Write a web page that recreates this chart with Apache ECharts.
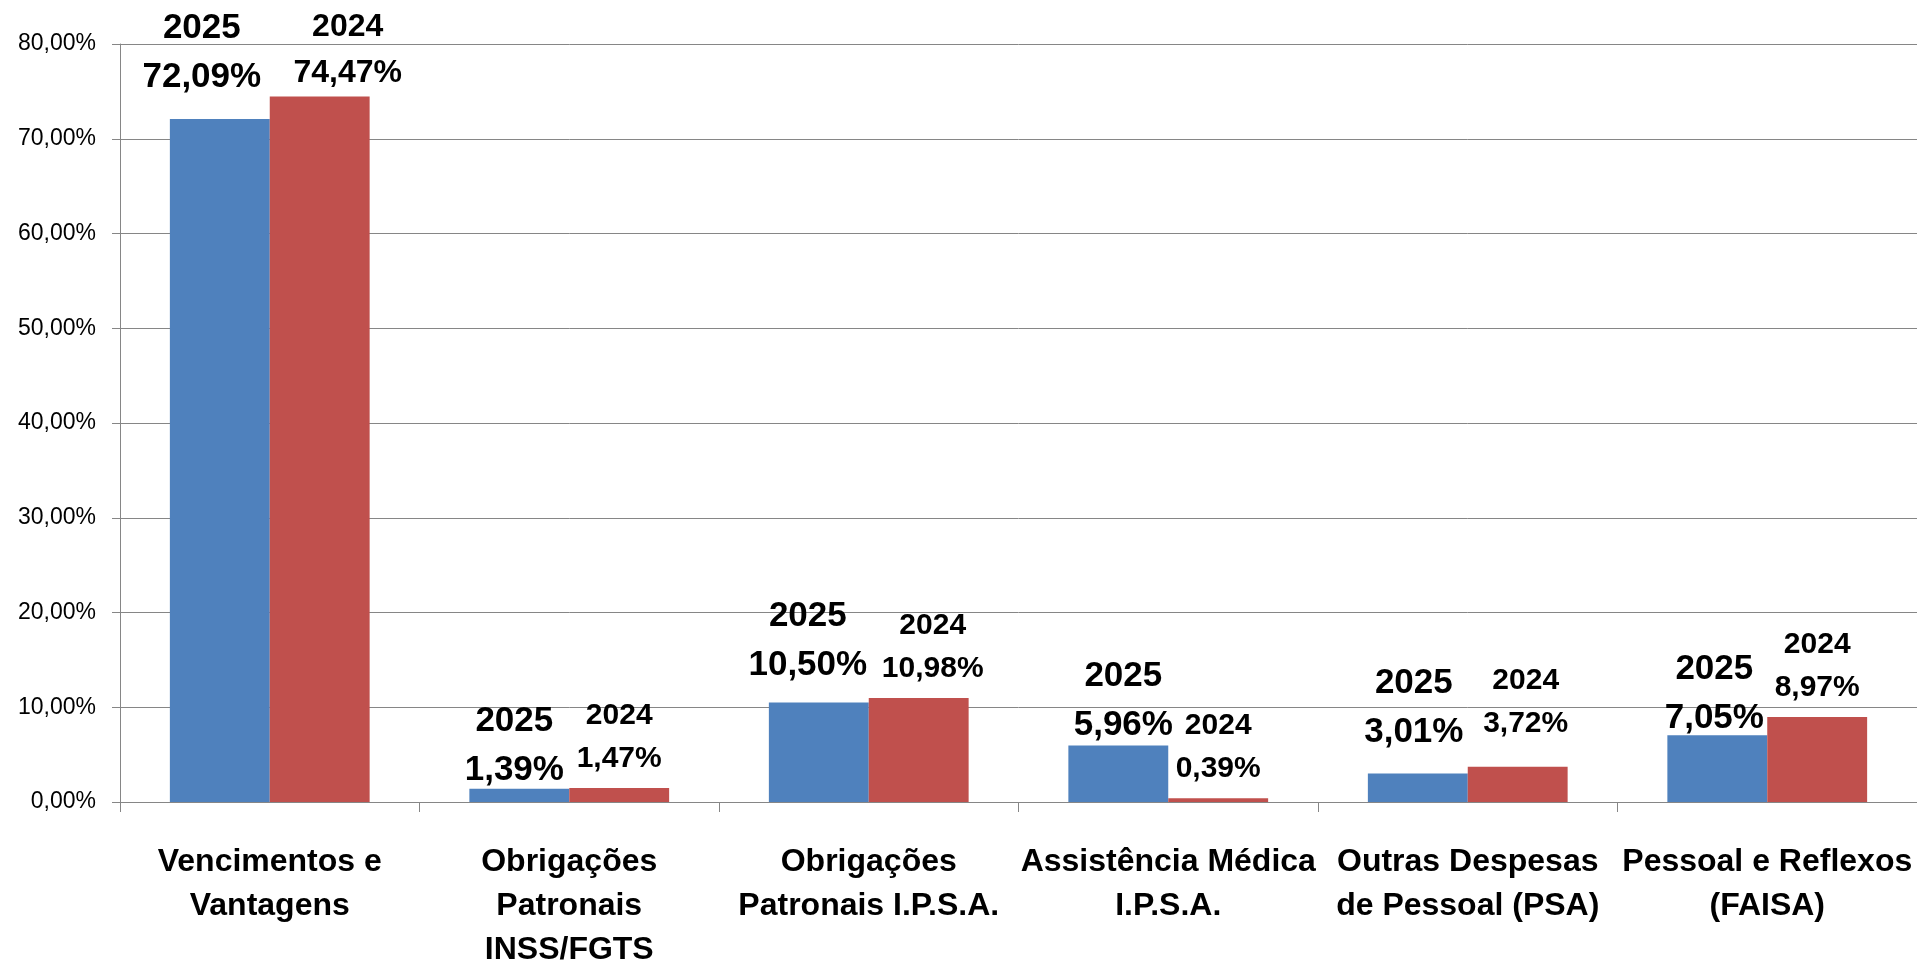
<!DOCTYPE html>
<html>
<head>
<meta charset="utf-8">
<script src="https://cdn.jsdelivr.net/npm/echarts@6/dist/echarts.min.js"></script>
<style>
    html, body { margin: 0; padding: 0; background: #fff; }
    #chart { width: 1917px; height: 967px; }
</style>
</head>
<body>
<div id="chart"></div>
<script>
// 数据
var categories = [
    'Vencimentos e\nVantagens',
    'Obrigações\nPatronais\nINSS/FGTS',
    'Obrigações\nPatronais I.P.S.A.',
    'Assistência Médica\nI.P.S.A.',
    'Outras Despesas\nde Pessoal (PSA)',
    'Pessoal e Reflexos\n(FAISA)'
];
var share2025 = [72.09, 1.39, 10.50, 5.96, 3.01, 7.05];
var share2024 = [74.47, 1.47, 10.98, 0.39, 3.72, 8.97];
var yMin = 0, yMax = 80, yStep = 10;

// 标签位置 (手动挪动过的, 相对柱顶)
var offsets2025 = [[-18, -17], [-5, 6], [-11, -13], [5, 4], [-4, -17], [-3, 8]];
var offsets2024 = [[28, 0], [0, -8], [14, -8], [0, -8], [8, -22], [0, -8]];
var sizes2024 = [32, 30, 30, 30, 30, 30];

function pct(v) {
    return v.toFixed(2).replace('.', ',') + '%';
}

(function () {
    var myChart = echarts.init(document.getElementById('chart'));
    var font = '"Liberation Sans", Arial, sans-serif';

    function buildData(values, offsets, big) {
        return values.map(function (v, i) {
            var key = big ? 'b' : (sizes2024[i] > 30 ? 'm' : 's');
            return {
                value: v,
                label: {
                    offset: offsets[i],
                    formatter: function (p) {
                        return '{' + key + '|' + p.seriesName + '}\n{' + key + '|' + pct(p.value) + '}';
                    }
                }
            };
        });
    }

    var rich = {
        b: { fontSize: 35, fontWeight: 'bold', lineHeight: 49, color: '#000', fontFamily: font },
        m: { fontSize: 32, fontWeight: 'bold', lineHeight: 46, color: '#000', fontFamily: font },
        s: { fontSize: 30, fontWeight: 'bold', lineHeight: 43, color: '#000', fontFamily: font }
    };

    var option = {
        animation: false,
        textStyle: { fontFamily: font },
        grid: { left: 120, right: 0, top: 44, bottom: 165, outerBoundsMode: 'none' },
        xAxis: {
            type: 'category',
            data: categories,
            axisLine: { lineStyle: { color: '#868686', width: 1 } },
            axisTick: { show: true, length: 10, lineStyle: { color: '#868686' } },
            axisLabel: {
                interval: 0,
                margin: 38,
                color: '#000',
                fontSize: 32,
                fontWeight: 'bold',
                lineHeight: 44,
                fontFamily: font
            }
        },
        yAxis: {
            type: 'value',
            min: yMin,
            max: yMax,
            interval: yStep,
            axisLine: { show: true, lineStyle: { color: '#868686', width: 1 } },
            axisTick: { show: true, length: 8, lineStyle: { color: '#868686' } },
            splitLine: { lineStyle: { color: '#868686', width: 1 } },
            axisLabel: {
                margin: 24,
                color: '#000',
                fontSize: 23,
                fontFamily: font,
                formatter: function (v) { return pct(v); }
            }
        },
        series: [
            {
                name: '2025',
                type: 'bar',
                barGap: '0%',
                barCategoryGap: '33.3%',
                itemStyle: { color: '#4F81BD' },
                label: { show: true, position: 'top', distance: 0, rich: rich },
                data: buildData(share2025, offsets2025, true)
            },
            {
                name: '2024',
                type: 'bar',
                barGap: '0%',
                barCategoryGap: '33.3%',
                itemStyle: { color: '#C0504D' },
                label: { show: true, position: 'top', distance: 0, rich: rich },
                data: buildData(share2024, offsets2024, false)
            }
        ]
    };
    myChart.setOption(option);
})();
</script>
</body>
</html>
